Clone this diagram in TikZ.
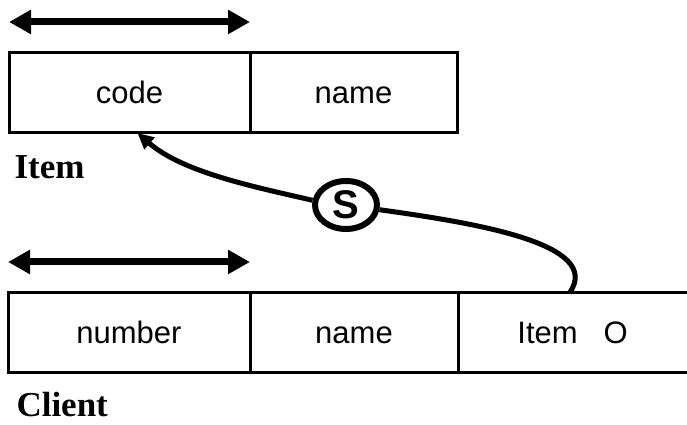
\documentclass[tikz,border=0pt]{standalone}
\usepackage{fontspec}
\setmainfont{Liberation Serif}
\setsansfont{Liberation Sans}
\usetikzlibrary{positioning}
\usetikzlibrary{shapes.geometric}
\usetikzlibrary{arrows.meta}

\begin{document}
\begin{tikzpicture}[x=1pt,y=1pt,node distance=0pt,line width=3pt,
  cell/.style={draw,minimum height=80pt,inner sep=0pt,outer sep=0pt,text height=22pt,text depth=0pt,
    font=\sffamily\fontsize{31}{31}\selectfont},
  tname/.style={font=\bfseries\fontsize{35}{35}\selectfont,inner sep=0pt,anchor=base west},
  keyarrow/.style={line width=7pt,{Triangle[length=22pt,width=23pt]}-{Triangle[length=22pt,width=23pt]}},
  role/.style={draw,ellipse,line width=6pt,minimum width=62pt,minimum height=48pt,inner sep=0pt,
    font=\sffamily\bfseries\fontsize{40}{40}\selectfont},
  link/.style={line width=5pt}]
  \useasboundingbox (0,0) rectangle (687,425);
  % Item
  \node[cell,minimum width=241pt](code) at (129.5,332) {code};
  \node[cell,minimum width=207pt,right= of code](iname) {name};
  \node[tname] (itemlbl) at ([xshift=4pt,yshift=-46pt]code.south west) {Item};
  \draw[keyarrow] ([yshift=31pt]code.north west) -- ([yshift=31pt]code.north east);
  % Client
  \node[cell,minimum width=242pt](number) at (129,92) {number};
  \node[cell,minimum width=208pt,right= of number](cname) {name};
  \node[cell,draw=none,minimum width=229pt,right= of cname](citem) {Item~~~O};
  \node[tname] (clientlbl) at ([xshift=7pt,yshift=-43pt]number.south west) {Client};
  \draw[keyarrow] ([yshift=31pt]number.north west) -- ([yshift=31pt]number.north east);
  \draw (cname.north east) -- (citem.north east);
  \draw (cname.south east) -- (citem.south east);
  % reference
  \node[role] (sub) at (346,220) {S};
  \coordinate (src) at ([xshift=-3pt]citem.north);
  \coordinate (tip) at ([xshift=8pt]code.south);
  \draw[link] (src) .. controls +(55:61pt) and +(-8:93pt) .. (sub.-8);
  \draw[link,-{Triangle[length=16pt,width=15pt]}] (sub.172) .. controls +(167:60pt) and +(-41:60pt) .. (tip);
\end{tikzpicture}
\end{document}
